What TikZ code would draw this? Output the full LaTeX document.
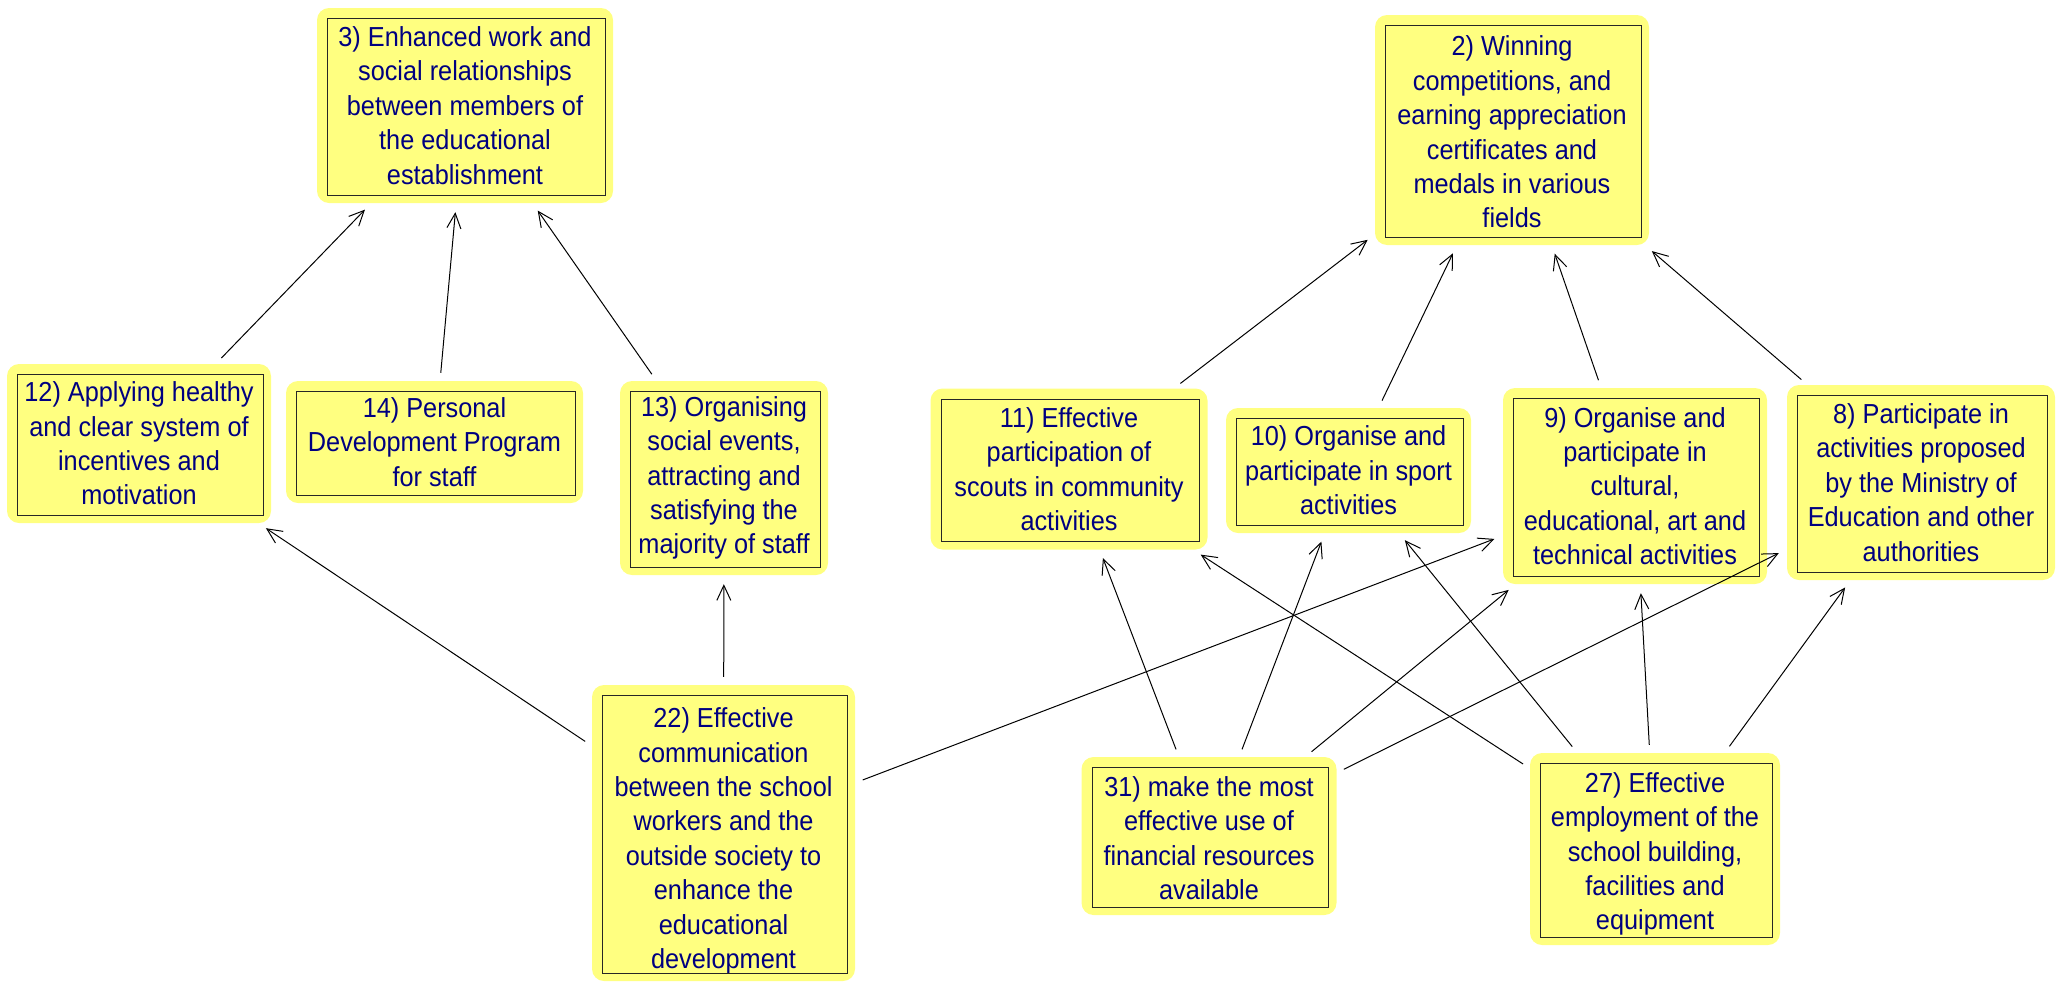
\documentclass[tikz,border=0pt]{standalone}
\usepackage{fontspec}
\setmainfont{Liberation Sans}[FakeStretch=0.92]
\usetikzlibrary{arrows.meta}
\definecolor{halo}{HTML}{FFFF80}
\definecolor{ink}{HTML}{000080}

% goal box: rounded yellow halo with a thin framed rectangle inside
% #1 name, #2 x, #3 y, #4 width, #5 height, #6 text
\newcommand\goalbox[6]{%
  \node[goal, minimum width=#4pt, minimum height=#5pt] (#1) at (#2,#3) {#6};
  \draw[frame] ([shift={(11,11)}]#1.north west) rectangle ([shift={(-8,-8)}]#1.south east);
}
% invisible strut that lowers a text block a little inside its box
\newcommand\lowerby[1]{\rule{0pt}{#1}}

\begin{document}
\begin{tikzpicture}[x=1pt,y=-1pt,
  goal/.style={fill=halo, rounded corners=12pt, inner sep=0pt, align=center,
    text=ink, font=\fontsize{27.5}{34.4}\selectfont},
  frame/.style={draw=black!85, line width=1.1pt},
  link/.style={draw=black, line width=1pt,
    -{Straight Barb[length=15pt,width=14pt]}, shorten <=8pt, shorten >=9pt}]
\useasboundingbox (0,0) rectangle (2058,983);

% outcomes
\goalbox{b3}{465}{105.5}{296}{195}{3) Enhanced work and\\social relationships\\between members of\\the educational\\establishment}
\goalbox{b2}{1512}{130}{274}{230}{\lowerby{24pt}2) Winning\\competitions, and\\earning appreciation\\certificates and\\medals in various\\fields}

% middle layer
\goalbox{b12}{139}{443.5}{264}{159}{12) Applying healthy\\and clear system of\\incentives and\\motivation}
\goalbox{b14}{434.5}{442}{297}{122}{14) Personal\\Development Program\\for staff}
\goalbox{b13}{724}{478}{208}{194}{13) Organising\\social events,\\attracting and\\satisfying the\\majority of staff}
\goalbox{b11}{1069}{469}{277}{161}{11) Effective\\participation of\\scouts in community\\activities}
\goalbox{b10}{1348.5}{470.5}{245}{125}{10) Organise and\\participate in sport\\activities}
\goalbox{b9}{1635}{486}{264}{196}{9) Organise and\\participate in\\cultural,\\educational, art and\\technical activities}
\goalbox{b8}{1921}{482.5}{268}{195}{8) Participate in\\activities proposed\\by the Ministry of\\Education and other\\authorities}

% enablers
\goalbox{b22}{723.5}{833}{263}{296}{\lowerby{36pt}22) Effective\\communication\\between the school\\workers and the\\outside society to\\enhance the\\educational\\development}
\goalbox{b31}{1209}{836}{255}{158}{\lowerby{24pt}31) make the most\\effective use of\\financial resources\\available}
\goalbox{b27}{1655}{849}{250}{192}{\lowerby{30pt}27) Effective\\employment of the\\school building,\\facilities and\\equipment}

% links to outcome 3
\draw[link] (b12) -- (b3);
\draw[link] (b14) -- (b3);
\draw[link] (b13) -- (b3);
% links to outcome 2
\draw[link] (b11) -- (b2);
\draw[link] (b10) -- (b2);
\draw[link] (b9) -- (b2);
\draw[link] (b8) -- (b2);
% links from 22
\draw[link] (b22) -- (b12);
\draw[link] (b22) -- (b13);
\draw[link] (b22) -- (b9);
% links from 31
\draw[link] (b31) -- (b11);
\draw[link] (b31) -- (b10);
\draw[link] (b31) -- (b9);
\draw[link] (b31) -- (b8);
% links from 27
\draw[link] (b27) -- (b11);
\draw[link] (b27) -- (b10);
\draw[link] (b27) -- (b9);
\draw[link] (b27) -- (b8);
\end{tikzpicture}
\end{document}
